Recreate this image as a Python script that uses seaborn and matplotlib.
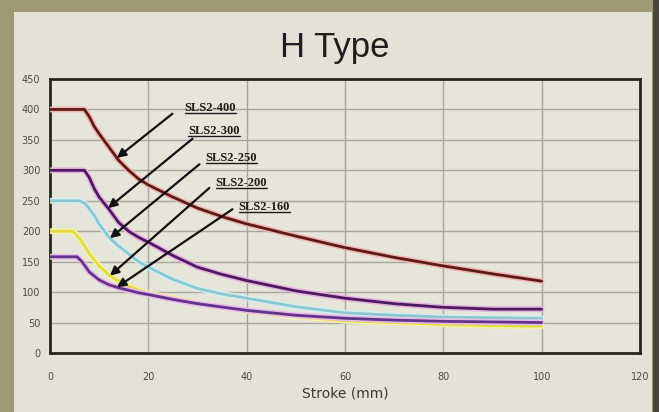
import numpy as np
import pandas as pd
import matplotlib
matplotlib.use("Agg")
import matplotlib.pyplot as plt
import matplotlib.patheffects as pe
from matplotlib.patches import Rectangle
import seaborn as sns

# ---------------- data ----------------
series_names = ["SLS2-400", "SLS2-300", "SLS2-250", "SLS2-200", "SLS2-160"]

x_400 = [0, 7, 8, 9, 10, 12, 14, 16, 18, 20, 25, 30, 35, 40, 50, 60, 70, 80, 90, 100]
y_400 = [400, 400, 388, 372, 360, 338, 316, 300, 286, 276, 256, 238, 224, 212, 192, 173, 157, 143, 130, 118]

x_300 = [0, 7, 8, 9, 10, 12, 14, 16, 18, 20, 25, 30, 35, 40, 50, 60, 70, 80, 90, 100]
y_300 = [300, 300, 288, 270, 256, 236, 214, 200, 190, 182, 160, 141, 129, 119, 102, 90, 81, 75, 72, 72]

x_250 = [0, 6, 7, 8, 9, 10, 12, 14, 16, 18, 20, 25, 30, 35, 40, 50, 60, 70, 80, 90, 100]
y_250 = [250, 250, 246, 237, 226, 212, 190, 175, 163, 150, 141, 121, 106, 97, 90, 76, 66, 62, 59, 58, 57]

x_200 = [0, 4.7, 6, 7, 8, 10, 12, 14, 16, 18, 20, 25, 30, 40, 50, 60, 70, 80, 90, 100]
y_200 = [200, 200, 188, 176, 163, 143, 128, 118, 110, 103, 98, 90, 82, 69, 60, 53, 50, 47, 45, 44]

x_160 = [0, 5.5, 6.5, 8, 10, 12, 14, 16, 18, 20, 25, 30, 40, 50, 60, 70, 80, 90, 100]
y_160 = [158, 158, 150, 133, 120, 112, 107, 103, 99, 96, 88, 81, 70, 62, 57, 54, 52, 51, 50]

x_ticks = [0, 20, 40, 60, 80, 100, 120]
y_ticks = [0, 50, 100, 150, 200, 250, 300, 350, 400, 450]

# annotation layout (label centre, arrow tail, arrow head x on curve)
label_pos = [(32.6, 402), (33.4, 365), (36.9, 321), (38.9, 280), (43.6, 239)]
arrow_tail = [(24.9, 393), (29.0, 352), (30.4, 310), (32.4, 271), (37.1, 236)]
arrow_head_x = [13.6, 11.8, 12.2, 12.2, 13.6]

colors = ["#5c1a16", "#4c1b5e", "#8cc7d0", "#e2dc42", "#623487"]
halos = ["#f0b5b0", "#e6b0e0", "#d4eef0", "#f5f2a8", "#e9b9ec"]

xs = [x_400, x_300, x_250, x_200, x_160]
ys = [y_400, y_300, y_250, y_200, y_160]

frames = []
for name, xv, yv in zip(series_names, xs, ys):
    frames.append(pd.DataFrame({"Stroke": xv, "Force": yv, "Model": name}))
df = pd.concat(frames, ignore_index=True)

# ---------------- figure ----------------
sns.set_style("white")
plt.rcParams["font.family"] = ["DejaVu Sans"]

W, H = 659, 412
fig = plt.figure(figsize=(W / 100, H / 100), dpi=100)
fig.patch.set_facecolor("#9e9a74")
# beige panel
fig.patches.append(Rectangle((14 / W, 0), (652 - 14) / W, 1 - 12 / H,
                             transform=fig.transFigure, facecolor="#e3e2d7",
                             edgecolor="none", zorder=-10))
# dark right strip
fig.patches.append(Rectangle((653 / W, 0), 6 / W, 1,
                             transform=fig.transFigure, facecolor="#45453a",
                             edgecolor="none", zorder=-10))

ax = fig.add_axes([50 / W, 1 - 353 / H, (640 - 50) / W, (353 - 79) / H])
ax.set_zorder(1)
ax.set_facecolor("#e6e5da")

sns.lineplot(data=df, x="Stroke", y="Force", hue="Model",
             palette=dict(zip(series_names, colors)), hue_order=series_names,
             linewidth=2.0, legend=False, ax=ax, sort=False, estimator=None)

for line, halo in zip(ax.lines, halos):
    line.set_solid_joinstyle("round")
    line.set_solid_capstyle("round")
    line.set_path_effects([pe.Stroke(linewidth=4.2, foreground=halo),
                           pe.Normal()])
    line.set_zorder(3)

ax.set_xlim(0, 120)
ax.set_ylim(0, 450)
ax.set_xticks(x_ticks)
ax.set_yticks(y_ticks)
ax.set_xticklabels([str(v) for v in x_ticks])
ax.set_yticklabels([str(v) for v in y_ticks])
ax.tick_params(axis="both", length=0, labelsize=7, colors="#4a4a44")
ax.tick_params(axis="x", pad=14)
ax.tick_params(axis="y", pad=7)
ax.grid(True, color="#a7a69c", linewidth=1.0)
ax.set_axisbelow(True)
for s in ax.spines.values():
    s.set_color("#26261f")
    s.set_linewidth(2.0)

ax.set_xlabel("Stroke (mm)", fontsize=10, color="#3a3a35", labelpad=3)
ax.set_ylabel("")

fig.text(335 / W, 1 - 48 / H, "H Type", fontsize=25, family="Liberation Sans",
         ha="center", va="center", color="#1e1e1e")

texts = []
for name, (lx, ly), (tx, ty), hx, xv, yv in zip(series_names, label_pos,
                                                  arrow_tail, arrow_head_x, xs, ys):
    hy = float(np.interp(hx, xv, yv))
    ax.annotate("", xy=(hx, hy), xytext=(tx, ty),
                arrowprops=dict(arrowstyle="-|>", color="#111111", lw=1.6,
                                mutation_scale=13, shrinkA=0, shrinkB=0),
                zorder=5)
    t = ax.text(lx, ly, name, fontsize=9, family="Liberation Serif",
                weight="bold", ha="center", va="center", color="#1a1a1a",
                zorder=6)
    texts.append(t)

fig.canvas.draw()
renderer = fig.canvas.get_renderer()
inv = ax.transData.inverted()
for t in texts:
    bb = t.get_window_extent(renderer)
    (x0, y0) = inv.transform((bb.x0, bb.y0 + 1))
    (x1, _) = inv.transform((bb.x1, bb.y0 + 1))
    ax.plot([x0, x1], [y0, y0], color="#1a1a1a", lw=1.0, zorder=6)

fig.savefig("out.png", dpi=100, facecolor=fig.get_facecolor())
